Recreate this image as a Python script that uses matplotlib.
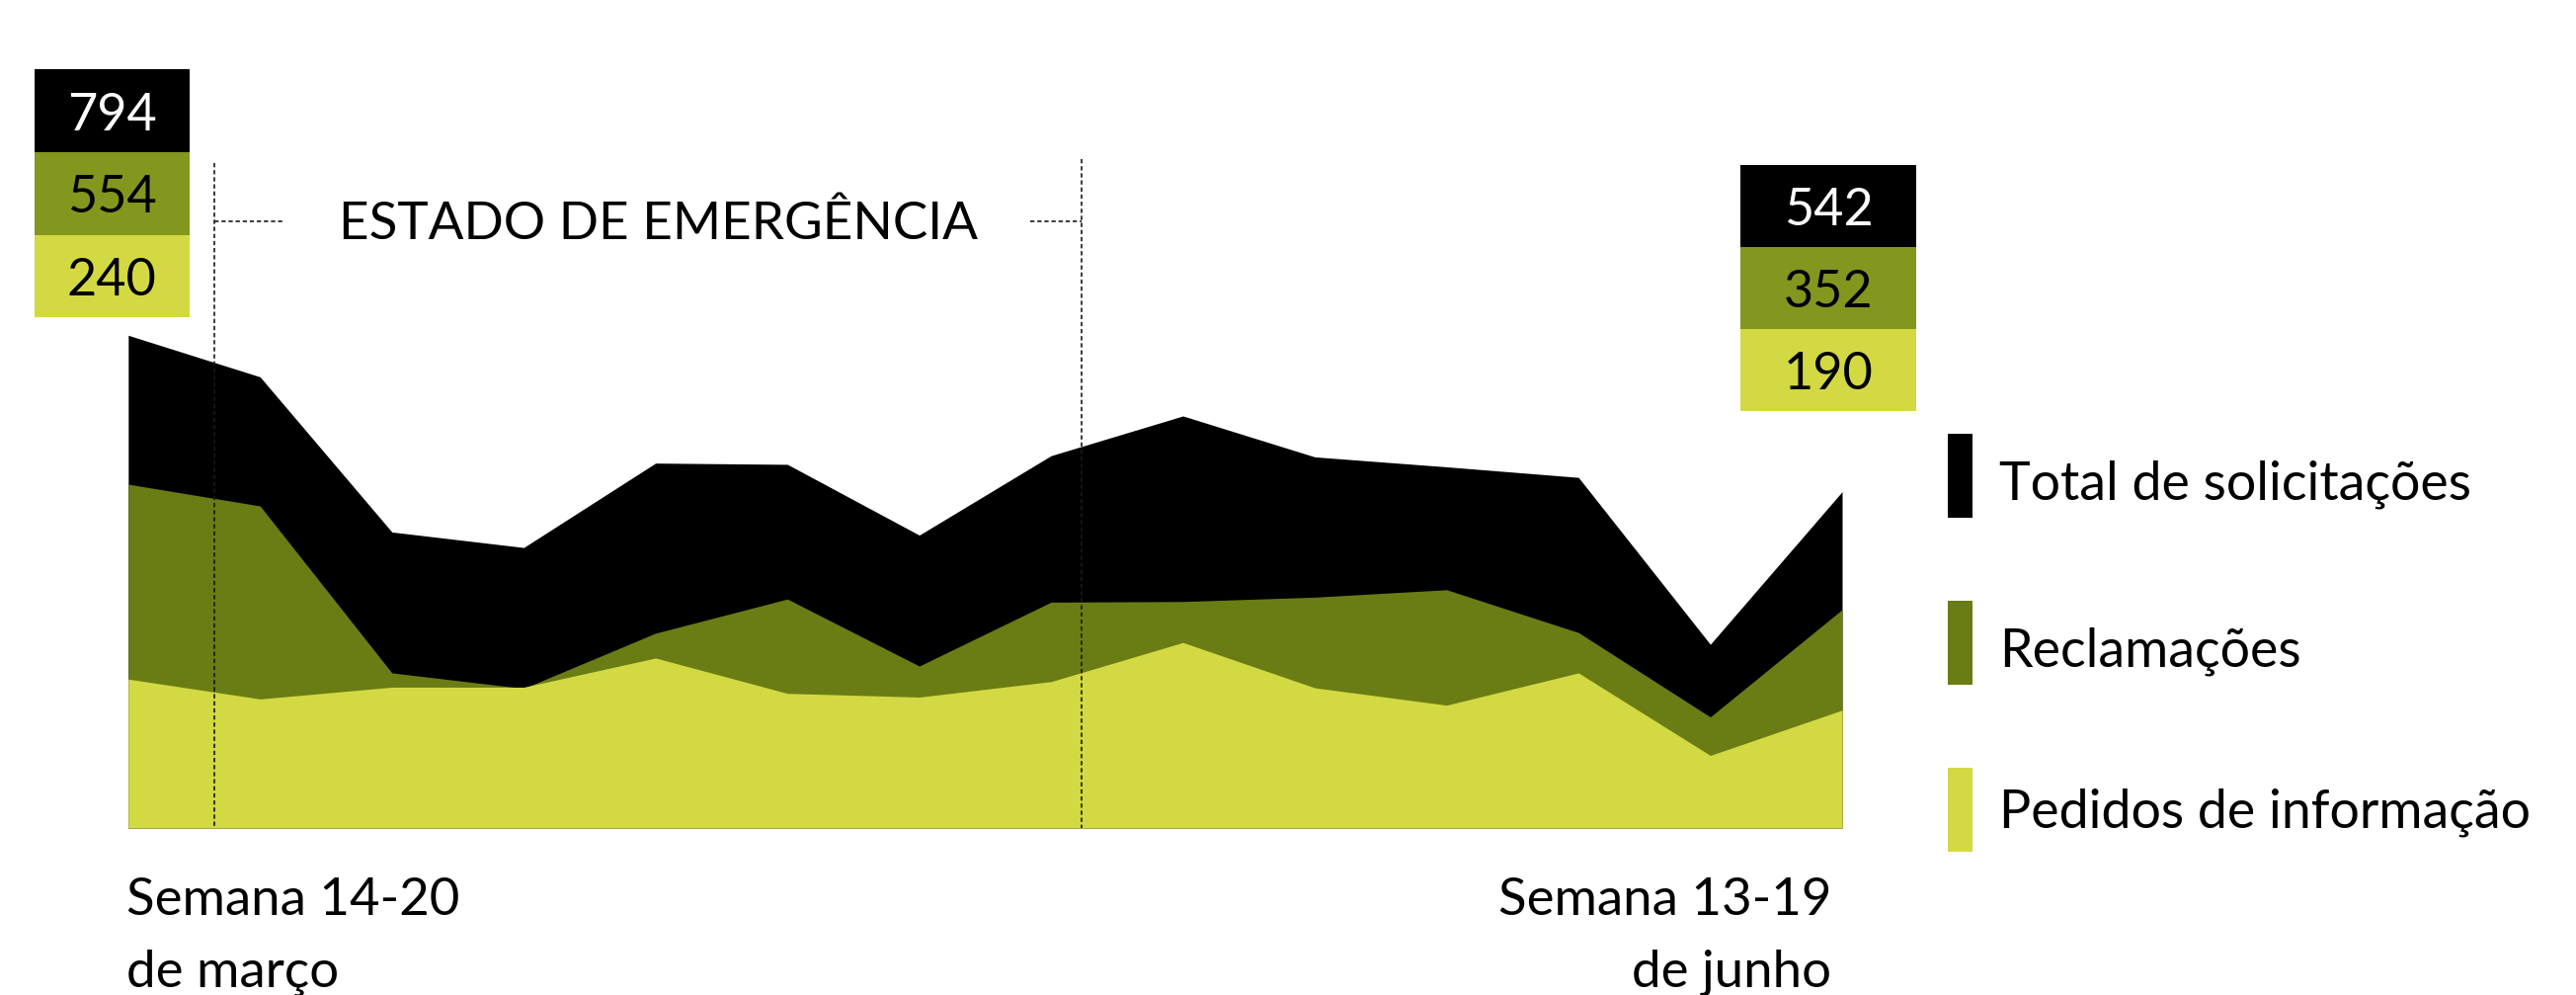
import matplotlib
matplotlib.use("Agg")
import matplotlib.pyplot as plt
import numpy as np

plt.rcParams['font.family'] = ['Lato', 'DejaVu Sans']

# ---------------- data ----------------
semanas = list(range(14))
total = [794, 727, 477, 452, 588, 586, 472, 600, 664, 598, 582, 565, 296, 542]
reclamacoes = [554, 519, 250, 225, 314, 369, 261, 364, 365, 372, 384, 315, 179, 352]
pedidos = [240, 208, 227, 227, 274, 217, 211, 236, 299, 226, 198, 250, 117, 190]
series_names = ["Total de solicitações", "Reclamações", "Pedidos de informação"]
first_label = "Semana 14-20\nde março"
last_label = "Semana 13-19\nde junho"
event_label = "ESTADO DE EMERGÊNCIA"

# ---------------- style ----------------
C_BLACK = "#000000"
C_OLIVE = "#6a7d14"
C_OLIVE_BOX = "#83961e"
C_YELLOW = "#d3d942"

W, H = 2608, 1007
fig = plt.figure(figsize=(W / 100, H / 100), dpi=100)

# chart axes (pixel geometry)
x0_px, x1_px = 129.8, 1865.0
base_px = 838.0
px_per_unit = 0.6281
ax = fig.add_axes([x0_px / W, (H - base_px) / H, (x1_px - x0_px) / W, base_px / H])
ax.set_xlim(0, len(semanas) - 1)
ax.set_ylim(0, base_px / px_per_unit)
ax.axis('off')

x = np.array(semanas)
ax.fill_between(x, 0, total, color=C_BLACK, linewidth=0, zorder=1)
ax.fill_between(x, 0, reclamacoes, color=C_OLIVE, linewidth=0, zorder=2)
ax.fill_between(x, 0, pedidos, color=C_YELLOW, linewidth=0, zorder=3)

# overlay axes in pixel coordinates for annotations
ov = fig.add_axes([0, 0, 1, 1])
ov.set_xlim(0, W)
ov.set_ylim(H, 0)
ov.axis('off')
ov.set_zorder(5)

dash = dict(color="#1a1a1a", linewidth=1.2, dashes=(2.6, 1.7))
# vertical dashed lines (state of emergency period)
ov.plot([217.4, 217.4], [165, base_px], **dash)
ov.plot([1094.6, 1094.6], [161, base_px], **dash)
# horizontal dashed segments
ov.plot([217.4, 286.5], [224.4, 224.4], **dash)
ov.plot([1043, 1094.6], [224.4, 224.4], **dash)
ov.text(666.7, 241.5, event_label, fontsize=38.2, ha='center', va='baseline', color='black')

# value boxes
def value_boxes(xl, xr, ytop, h, vals):
    cols = [C_BLACK, C_OLIVE_BOX, C_YELLOW]
    tcols = ['white', 'black', 'black']
    for i, (v, c, tc) in enumerate(zip(vals, cols, tcols)):
        y = ytop + i * h
        ov.add_patch(plt.Rectangle((xl, y), xr - xl, h, color=c, linewidth=0))
        ov.text((xl + xr) / 2, y + h / 2 + 19.5, f"{v}", fontsize=37.5,
                ha='center', va='baseline', color=tc)

value_boxes(35.1, 191.6, 70.4, 83.7, [total[0], reclamacoes[0], pedidos[0]])
value_boxes(1762.0, 1940.3, 167.0, 83.0, [total[-1], reclamacoes[-1], pedidos[-1]])

# legend
leg_cols = [C_BLACK, C_OLIVE, C_YELLOW]
leg_tops = [439.1, 608.0, 776.9]
leg_base = [505.7, 674.7, 837.6]
for name, c, yt, yb in zip(series_names, leg_cols, leg_tops, leg_base):
    ov.add_patch(plt.Rectangle((1972.2, yt), 24.3, 84.7, color=c, linewidth=0))
    ov.text(2024, yb, name, fontsize=38.7, ha='left', va='baseline', color='black')

# bottom labels
for lab, xx, ha in [(first_label, 127.5, 'left'), (last_label, 1854.0, 'right')]:
    l1, l2 = lab.split("\n")
    ov.text(xx, 926, l1, fontsize=38, ha=ha, va='baseline', color='black')
    ov.text(xx, 998, l2, fontsize=38, ha=ha, va='baseline', color='black')

fig.savefig("out.png", dpi=100, facecolor='white')
